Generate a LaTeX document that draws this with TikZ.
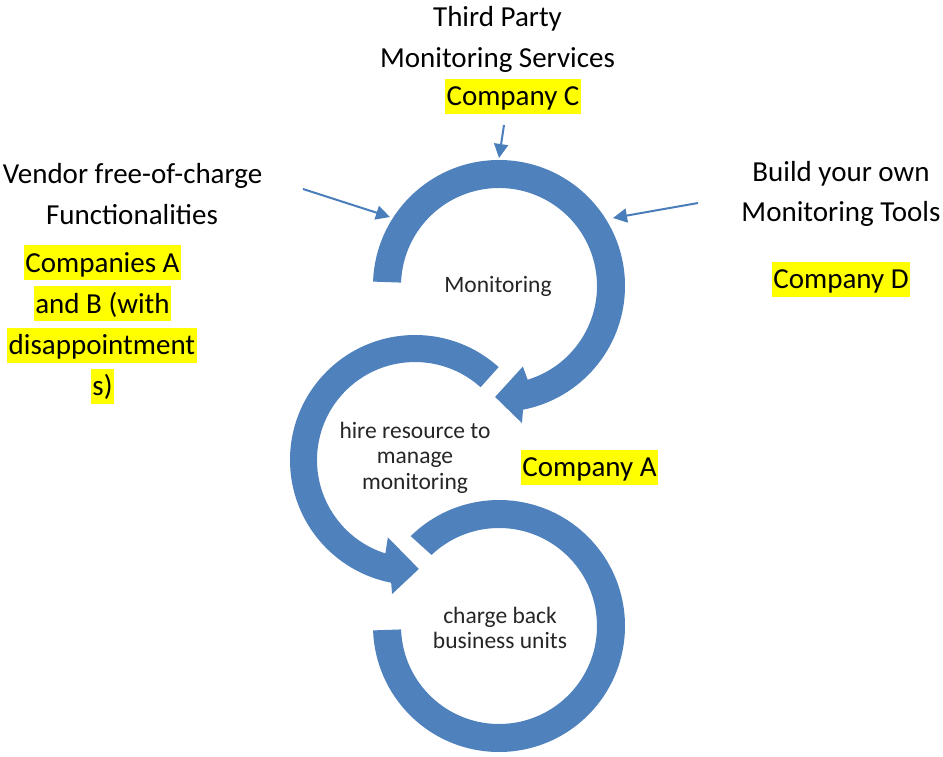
\documentclass[tikz,border=0pt]{standalone}
\usepackage{fontspec}
\setmainfont{Carlito}
\usetikzlibrary{arrows.meta}
\definecolor{ringblue}{RGB}{79,129,189}
\definecolor{linkblue}{RGB}{74,126,187}
\definecolor{hlyellow}{RGB}{255,255,0}
\definecolor{innergray}{RGB}{38,38,38}
\tikzset{
  outertxt/.style={font=\fontsize{29}{35}\selectfont, inner sep=0pt, anchor=base},
  hlbox/.style={outertxt, fill=hlyellow, text height=27pt, text depth=8pt, inner xsep=1.5pt, inner ysep=0pt},
  innertxt/.style={font=\fontsize{23.5}{25}\selectfont, text=innergray, inner sep=0pt, anchor=base},
  ringfill/.style={fill=ringblue},
  linkarrow/.style={draw=linkblue, line width=2pt, -{Triangle[length=14pt,width=14pt]}}
}
\begin{document}
\begin{tikzpicture}[x=1pt,y=-1pt]
\useasboundingbox[fill=white] (0,0) rectangle (943,756);

% ring 1 : Monitoring
\begin{scope}[shift={(499,286)}]
\fill[ringfill] (182:126) arc[start angle=182,end angle=439,radius=126]
  -- (440.5:139) -- (452:111) -- (433.5:84) -- (433:98)
  arc[start angle=433,end angle=182,radius=98] -- cycle;
\end{scope}

% ring 2 : hire resource
\begin{scope}[shift={(415,460)}]
\fill[ringfill] (-48:125) arc[start angle=-48,end angle=-259,radius=125]
  -- (-260.3:136) -- (-272:109) -- (-250.7:82) -- (-252.4:98)
  arc[start angle=-252.4,end angle=-48,radius=98] -- cycle;
\end{scope}

% ring 3 : charge back
\begin{scope}[shift={(499,626)}]
\fill[ringfill] (225.5:126) arc[start angle=225.5,end angle=538,radius=126]
  -- (538:98) arc[start angle=538,end angle=226.5,radius=98] -- cycle;
\end{scope}

% outer labels
\node[outertxt] (tp1) at (497.5,26.5) {Third Party};
\node[outertxt] (tp2) at (497.5,67.5) {Monitoring Services};
\node[hlbox] (compC) at (513,105.5) {Company C};

\node[outertxt] (vend1) at (132.5,183.5) {Vendor free-of-charge};
\node[outertxt] (vend2) at (132,224.5) {Functionalities};
\node[hlbox] (compAB1) at (102.5,272) {Companies A};
\node[hlbox] (compAB2) at (102.5,313) {and B (with};
\node[hlbox] (compAB3) at (102,354.5) {disappointment};
\node[hlbox] (compAB4) at (102.5,395.5) {s)};

\node[outertxt] (build1) at (841,181) {Build your own};
\node[outertxt] (build2) at (841,221) {Monitoring Tools};
\node[hlbox] (compD) at (841,288.5) {Company D};

\node[hlbox] (compA) at (589.5,476.5) {Company A};

% inner labels
\node[innertxt] (mon) at (498,292.7) {Monitoring};
\node[innertxt] (hire1) at (415,438.3) {hire resource to};
\node[innertxt] (hire2) at (415,463.8) {manage};
\node[innertxt] (hire3) at (415,489.3) {monitoring};
\node[innertxt] (charge1) at (500,623.3) {charge back};
\node[innertxt] (charge2) at (500,648.3) {business units};

% link arrows
\coordinate (topFrom) at (504,125);
\coordinate (topTo) at (499,158);
\coordinate (leftFrom) at (303,189);
\coordinate (leftTo) at (390,217);
\coordinate (rightFrom) at (698,203);
\coordinate (rightTo) at (613,218);
\draw[linkarrow] (topFrom) -- (topTo);
\draw[linkarrow] (leftFrom) -- (leftTo);
\draw[linkarrow] (rightFrom) -- (rightTo);
\end{tikzpicture}
\end{document}
